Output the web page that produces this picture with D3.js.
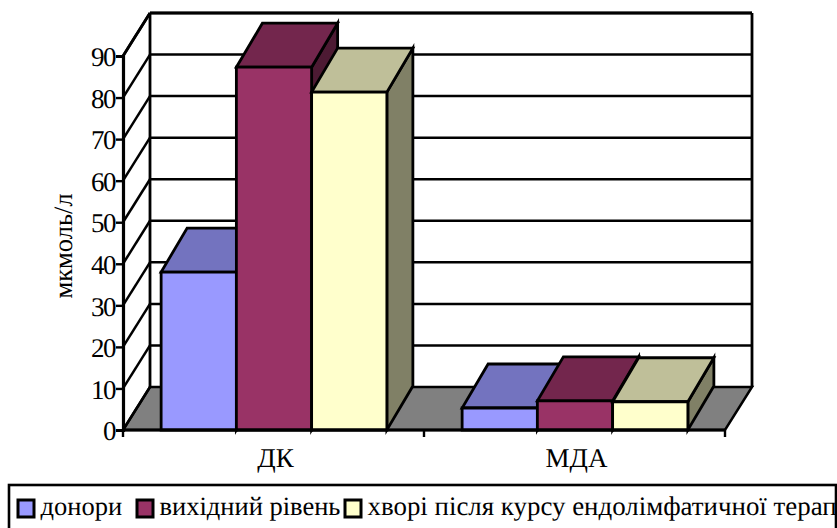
<!DOCTYPE html>
<html>
<head>
<meta charset="utf-8">
<script src="https://cdn.jsdelivr.net/npm/d3@7"></script>
<style>
html,body{margin:0;padding:0;background:#fff;overflow:hidden}
svg{display:block}
</style>
</head>
<body>
<svg id="chart" width="837" height="528" text-rendering="geometricPrecision"></svg>
<script>
const categories = ["ДК", "МДА"];
const seriesNames = ["донори", "вихідний рівень", "хворі після курсу ендолімфатичної терапії"];
const donors = [38, 5.3];
const baseline = [87.3, 7];
const treated = [81.3, 6.8];
const tickValues = [0, 10, 20, 30, 40, 50, 60, 70, 80, 90];
const faceColors = ["#9999ff", "#993366", "#ffffcc"];
const topColors = ["#7373bf", "#73264d", "#bfbf99"];
const sideColors = ["#4d4d80", "#4d1a33", "#808066"];
const yLabel = "мкмоль/л";
const serif = '"Liberation Serif", "Times New Roman", serif';

const svg = d3.select("#chart");
const left = 123, right = 725, floorY = 430;
const depthX = 27, depthY = 43;
const barDepthX = 26, barDepthY = 44;

const y = d3.scaleLinear().domain([0, 90]).range([floorY, 56]);
const x0 = d3.scaleBand().domain(categories).range([left, right]);
const x1 = d3.scaleBand().domain(d3.range(3)).range([0, x0.bandwidth()]).paddingInner(0).paddingOuter(0.5);

const poly = (pts, fill, sw = 2.8) => svg.append("polygon")
  .attr("points", pts.map(p => p.join(",")).join(" "))
  .attr("fill", fill).attr("stroke", "#000").attr("stroke-width", sw)
  .attr("stroke-linejoin", "miter");
const line = (a, b, sw = 2.5) => svg.append("line")
  .attr("x1", a[0]).attr("y1", a[1]).attr("x2", b[0]).attr("y2", b[1])
  .attr("stroke", "#000").attr("stroke-width", sw);
const label = (x, yPos, str, size) => svg.append("text")
  .attr("x", x).attr("y", yPos).attr("font-size", size)
  .style("font-family", serif).attr("fill", "#000").text(str);

// Floor of the box
poly([[left, floorY], [right, floorY], [right + depthX, floorY - depthY], [left + depthX, floorY - depthY]], "#808080", 2.5);

// Gridlines on the back and left walls
tickValues.forEach(t => {
  const v = y(t);
  if (t > 0) line([left + depthX, v - depthY], [right + depthX, v - depthY]);
  line([left, v], [left + depthX, v - depthY]);
});

// Wall edges above the floor
const topBack = y(90) - depthY;
line([left, y(90)], [left + depthX, topBack], 2.8);
line([left + depthX, topBack], [right + depthX, topBack], 2.8);
line([left + depthX, topBack], [left + depthX, floorY - depthY], 2.8);
line([right + depthX, topBack], [right + depthX, floorY - depthY], 2.8);

// Extruded bars, drawn back to front within each group
const seriesValues = [donors, baseline, treated];
categories.forEach((cat, c) => {
  seriesValues.forEach((vals, s) => {
    const xa = x0(cat) + x1(s) + 0.5, xb = xa + x1.bandwidth();
    const yt = y(vals[c]);
    poly([[xb, floorY], [xb, yt], [xb + barDepthX, yt - barDepthY], [xb + barDepthX, floorY - barDepthY]], sideColors[s]);
    poly([[xa, yt], [xb, yt], [xb + barDepthX, yt - barDepthY], [xa + barDepthX, yt - barDepthY]], topColors[s]);
    poly([[xa, floorY], [xb, floorY], [xb, yt], [xa, yt]], faceColors[s]);
  });
});

// Value axis
const yAxis = svg.append("g").attr("transform", `translate(${left},0)`)
  .call(d3.axisLeft(y).tickValues(tickValues).tickSize(7).tickPadding(1).tickFormat(d3.format("d")));
yAxis.selectAll("path").attr("stroke", "#000").attr("stroke-width", 3.2);
yAxis.selectAll("line").attr("stroke", "#000").attr("stroke-width", 2.4);
yAxis.selectAll("text").attr("font-size", 27).attr("letter-spacing", -1.5).attr("dy", "0.36em")
  .style("font-family", serif);

// Category axis with ticks at the group boundaries
line([left, floorY], [right, floorY], 3.2);
[left, left + x0.bandwidth(), right].forEach(t => line([t, floorY], [t, floorY + 7], 2.4));
categories.forEach(cat => {
  label(x0(cat) + x0.bandwidth() / 2 + 2, 467, cat, 27).attr("text-anchor", "middle");
});

// Axis title
svg.append("text").attr("transform", "translate(71.5,246) rotate(-90)")
  .attr("text-anchor", "middle").attr("font-size", 26.5)
  .style("font-family", serif).attr("fill", "#000").text(yLabel);

// Legend frame: its right and lower parts run off the page
const legendX = [18, 137, 345];
const legendSize = [26.5, 26.5, 26.9];
seriesNames.forEach((name, i) => {
  svg.append("rect").attr("x", legendX[i]).attr("y", 500).attr("width", 16).attr("height", 17)
    .attr("fill", faceColors[i]).attr("stroke", "#000").attr("stroke-width", 3);
  label(legendX[i] + 22.5, 515, name, legendSize[i]);
});
svg.append("rect").attr("x", 9).attr("y", 485).attr("width", 827).attr("height", 60)
  .attr("fill", "none").attr("stroke", "#000").attr("stroke-width", 2.6);
</script>
</body>
</html>
